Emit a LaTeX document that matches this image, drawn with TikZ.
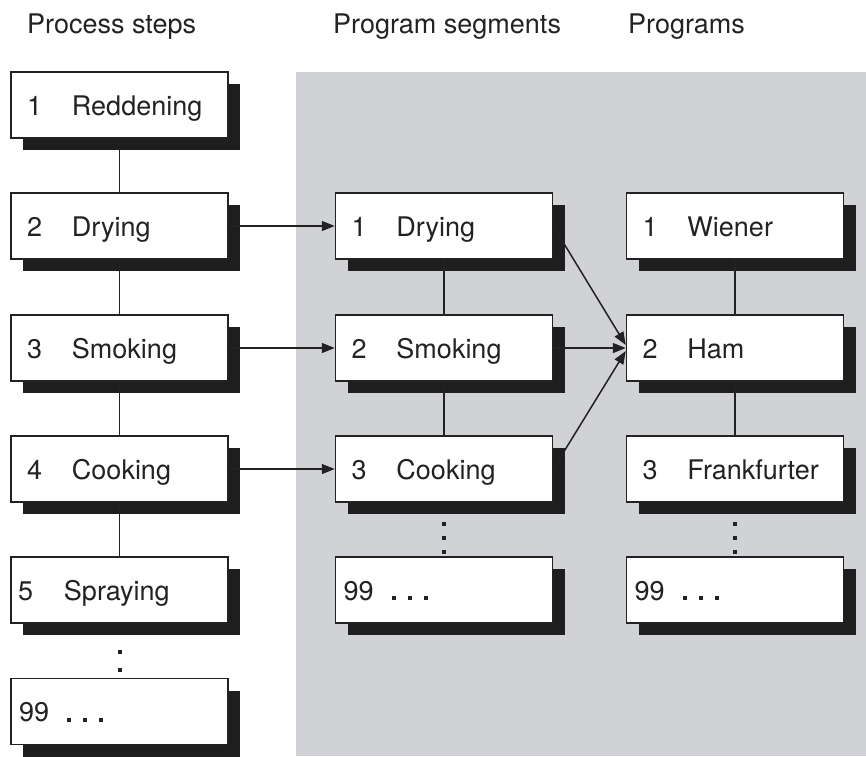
\documentclass[tikz,border=0pt]{standalone}
\usepackage{fontspec}
\setmainfont{TeX Gyre Heros}
\usetikzlibrary{shadows,arrows.meta}
\definecolor{bgc}{HTML}{D1D2D6}
\definecolor{shc}{HTML}{1E1E1E}
\definecolor{inkc}{HTML}{222222}
\newcommand\bxt[2]{\makebox[217pt][l]{\hspace*{16pt}\makebox[45pt][l]{#1}#2}}
\newcommand\bxs[2]{\makebox[217pt][l]{\hspace*{7pt}\makebox[46pt][l]{#1}#2}}
\newcommand\bxn{\makebox[217pt][l]{\hspace*{8pt}\makebox[48pt][l]{99}\rule{4pt}{4pt}\hspace{12pt}\rule{4pt}{4pt}\hspace{12pt}\rule{4pt}{4pt}}}
\begin{document}
\begin{tikzpicture}[x=1pt,y=-1pt,
  every node/.style={font=\fontsize{27}{32}\selectfont, text=inkc},
  boxx/.style={draw=inkc, line width=1.5pt, fill=white, inner sep=0pt,
    minimum width=217pt, minimum height=66pt, text height=20pt, text depth=0pt,
    general shadow={fill=shc, shadow xshift=12pt, shadow yshift=-12pt}},
  head/.style={anchor=base west, inner sep=0pt},
  link/.style={draw=inkc, line width=1.5pt},
  arr/.style={draw=inkc, line width=1.5pt, -{Triangle[length=13pt,width=10pt]}},
  dotm/.style={fill=inkc}
]
\useasboundingbox (0,0) rectangle (866,756);
\fill[bgc] (296,72) rectangle (866,756);

\node[head] (h1) at (27,33) {Process steps};
\node[head] (h2) at (333,33) {Program segments};
\node[head] (h3) at (628,33) {Programs};

% left column
\node[boxx] (l1) at (119.5,105) {\bxt{1}{Reddening}};
\node[boxx] (l2) at (119.5,226) {\bxt{2}{Drying}};
\node[boxx] (l3) at (119.5,348) {\bxt{3}{Smoking}};
\node[boxx] (l4) at (119.5,469) {\bxt{4}{Cooking}};
\node[boxx] (l5) at (119.5,590) {\bxs{5}{Spraying}};
\node[boxx] (l6) at (119.5,711.5) {\bxn};

% middle column
\node[boxx] (m1) at (444,226) {\bxt{1}{Drying}};
\node[boxx] (m2) at (444,348) {\bxt{2}{Smoking}};
\node[boxx] (m3) at (444,469) {\bxt{3}{Cooking}};
\node[boxx] (m4) at (444,590) {\bxn};

% right column
\node[boxx] (r1) at (735,226) {\bxt{1}{Wiener}};
\node[boxx] (r2) at (735,348) {\bxt{2}{Ham}};
\node[boxx] (r3) at (735,469) {\bxt{3}{Frankfurter}};
\node[boxx] (r4) at (735,590) {\bxn};

% vertical links
\draw[link] (l1.south) -- (l2.north);
\draw[link] (l2.south) -- (l3.north);
\draw[link] (l3.south) -- (l4.north);
\draw[link] (l4.south) -- (l5.north);
\draw[link] (m1.south) -- (m2.north);
\draw[link] (m2.south) -- (m3.north);
\draw[link] (r1.south) -- (r2.north);
\draw[link] (r2.south) -- (r3.north);

% dots
\foreach \y in {652,670} \fill[dotm] (118.2,\y-1.8) rectangle ++(3.6,3.6);
\foreach \y in {524,538,552} {
  \fill[dotm] (442.2,\y-1.8) rectangle ++(3.6,3.6);
  \fill[dotm] (733.2,\y-1.8) rectangle ++(3.6,3.6);
}

% arrows
\draw[arr] (l2.east) -- (m1.west);
\draw[arr] (l3.east) -- (m2.west);
\draw[arr] (l4.east) -- (m3.west);
\draw[arr] (m1.east) -- ([yshift=3pt]r2.west);
\draw[arr] (m2.east) -- (r2.west);
\draw[arr] (m3.east) -- ([yshift=-3pt]r2.west);
\end{tikzpicture}
\end{document}
